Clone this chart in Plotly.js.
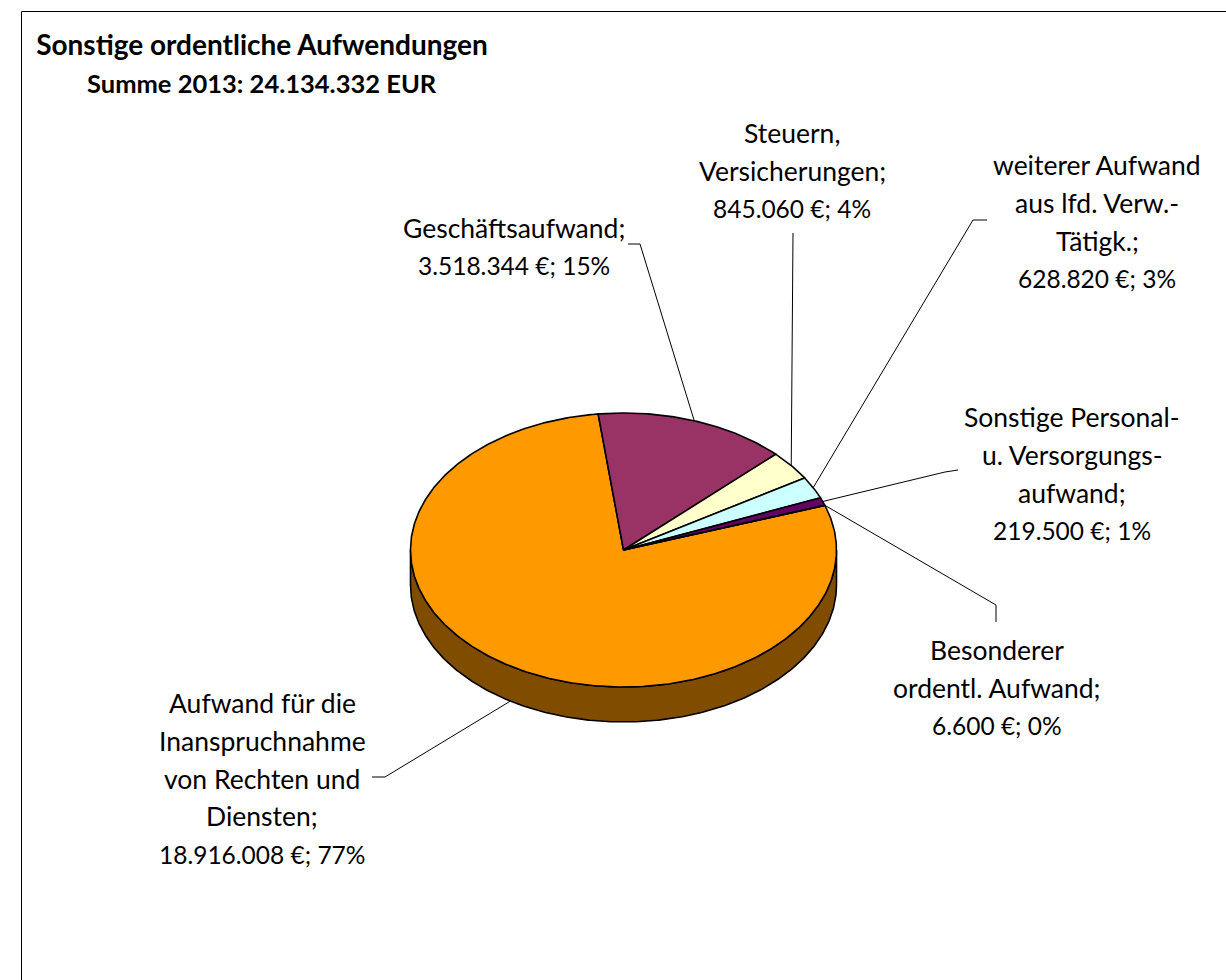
<!DOCTYPE html>
<html>
<head>
<meta charset="utf-8">
<script src="https://cdn.plot.ly/plotly-3.0.1.min.js"></script>
<style>html,body{margin:0;padding:0;background:#fff;}#chart{width:1226px;height:980px;}</style>
</head>
<body>
<div id="chart"></div>
<script>
// ---------- DATA ----------
const categories = [
  "Aufwand für die Inanspruchnahme von Rechten und Diensten",
  "Geschäftsaufwand",
  "Steuern, Versicherungen",
  "weiterer Aufwand aus lfd. Verw.-Tätigk.",
  "Sonstige Personal- u. Versorgungsaufwand",
  "Besonderer ordentl. Aufwand"
];
const values = [18916008, 3518344, 845060, 628820, 219500, 6600];
const percentLabels = [77, 15, 4, 3, 1, 0];
const labelLines = [
  ["Aufwand für die", "Inanspruchnahme", "von Rechten und", "Diensten;"],
  ["Geschäftsaufwand;"],
  ["Steuern,", "Versicherungen;"],
  ["weiterer Aufwand", "aus lfd. Verw.-", "Tätigk.;"],
  ["Sonstige Personal-", "u. Versorgungs-", "aufwand;"],
  ["Besonderer", "ordentl. Aufwand;"]
];
const titleLine1 = "Sonstige ordentliche Aufwendungen";
const titleYear = "2013";

// ---------- STYLE / LAYOUT ----------
const topColors  = ["#FF9900", "#993366", "#FFFFCC", "#CCFFFF", "#660066", "#FF8080"];
const sideColors = ["#7F4C00", "#4C1933", "#7F7F66", "#667F7F", "#330033", "#7F4040"];
const CX = 623.5, CY = 550, RX = 213, RY = 137, DEPTH = 35, FIRST_ANGLE = 71;
const LINE_GAP = 37.8;
const labelLayout = [
  {x: 262,  y: 703, lead: [[372, 777], [385, 777]]},
  {x: 514,  y: 228, lead: [[628, 244], [640, 244]]},
  {x: 792,  y: 133, lead: [[793, 233]]},
  {x: 1097, y: 165, lead: [[987, 220], [973, 220]]},
  {x: 1072, y: 417, lead: [[958, 470], [945, 472]]},
  {x: 997,  y: 650, lead: [[996, 622], [996, 605]]}
];
const FONT = "Lato, 'Open Sans', sans-serif";
const LABEL_SIZE = 26.5, VALUE_SIZE = 24.5, TITLE_SIZE = 28, TITLE2_SIZE = 25.5;

function de(n) { return String(n).replace(/\B(?=(\d{3})+(?!\d))/g, "."); }
const total = values.reduce((a, b) => a + b, 0);

function pt(deg, drop) {
  const r = deg * Math.PI / 180;
  return [CX + RX * Math.sin(r), CY - RY * Math.cos(r) + (drop || 0)];
}
function arc(a1, a2, drop) {
  const pts = [];
  const n = Math.max(2, Math.ceil(Math.abs(a2 - a1) / 0.5));
  for (let i = 0; i <= n; i++) pts.push(pt(a1 + (a2 - a1) * i / n, drop));
  return pts;
}

// slice angle ranges
const ranges = [];
let acc = FIRST_ANGLE;
values.forEach(v => { const s = v / total * 360; ranges.push([acc, acc + s]); acc += s; });

const traces = [];
// side walls (front half only)
ranges.forEach((r, i) => {
  [[90, 270], [450, 630]].forEach(w => {
    const s = Math.max(r[0], w[0]), e = Math.min(r[1], w[1]);
    if (e - s > 0.01) {
      const top = arc(s, e, 0), bot = arc(e, s, DEPTH);
      const all = top.concat(bot); all.push(top[0]);
      traces.push({type: "scatter", mode: "lines", x: all.map(p => p[0]), y: all.map(p => p[1]),
        fill: "toself", fillcolor: sideColors[i], line: {color: "#000", width: 1.6},
        hoverinfo: "skip", showlegend: false});
    }
  });
});
// top faces
ranges.forEach((r, i) => {
  const pts = [[CX, CY]].concat(arc(r[0], r[1], 0)); pts.push([CX, CY]);
  traces.push({type: "scatter", mode: "lines", x: pts.map(p => p[0]), y: pts.map(p => p[1]),
    fill: "toself", fillcolor: topColors[i], line: {color: "#000", width: 1.6},
    name: categories[i], hoverinfo: "skip", showlegend: false});
});
// leader lines
ranges.forEach((r, i) => {
  const mid = (r[0] + r[1]) / 2;
  const m = ((mid % 360) + 360) % 360;
  const front = m > 90 && m < 270;
  const sp = pt(mid, front ? DEPTH : 0);
  const pts = labelLayout[i].lead.concat([sp]);
  traces.push({type: "scatter", mode: "lines", x: pts.map(p => p[0]), y: pts.map(p => p[1]),
    line: {color: "#000", width: 1}, hoverinfo: "skip", showlegend: false});
});

// labels
const annotations = [];
labelLines.forEach((lines, i) => {
  const all = lines.concat([de(values[i]) + " €; " + percentLabels[i] + "%"]);
  all.forEach((t, k) => {
    const isValue = k === all.length - 1;
    annotations.push({x: labelLayout[i].x, y: labelLayout[i].y + k * LINE_GAP, xref: "x", yref: "y",
      text: t, showarrow: false, xanchor: "center", yanchor: "middle",
      font: {family: FONT, size: isValue ? VALUE_SIZE : LABEL_SIZE, color: "#000"}});
  });
});
annotations.push({x: 262, y: 83, xref: "x", yref: "y", text: "<b>Summe " + titleYear + ": " + de(total) + " EUR</b>",
  showarrow: false, xanchor: "center", yanchor: "middle", font: {family: FONT, size: TITLE2_SIZE, color: "#000"}});

const layout = {
  width: 1226, height: 980,
  margin: {l: 0, r: 0, t: 0, b: 0, pad: 0},
  paper_bgcolor: "#fff", plot_bgcolor: "#fff",
  title: {text: "<b>" + titleLine1 + "</b>", x: 262 / 1226, xanchor: "center", xref: "paper",
    y: 1 - 45 / 980, yanchor: "middle", yref: "paper", font: {family: FONT, size: TITLE_SIZE, color: "#000"}},
  xaxis: {range: [0, 1226], visible: false, fixedrange: true},
  yaxis: {range: [980, 0], visible: false, fixedrange: true},
  shapes: [{type: "rect", xref: "x", yref: "y", x0: 21.5, y0: 11.5, x1: 1300, y1: 1100,
    line: {color: "#000", width: 1}, fillcolor: "rgba(0,0,0,0)", layer: "below"}],
  annotations: annotations,
  showlegend: false,
  hovermode: false
};
Plotly.newPlot("chart", traces, layout, {displayModeBar: false, staticPlot: true});
</script>
</body>
</html>
